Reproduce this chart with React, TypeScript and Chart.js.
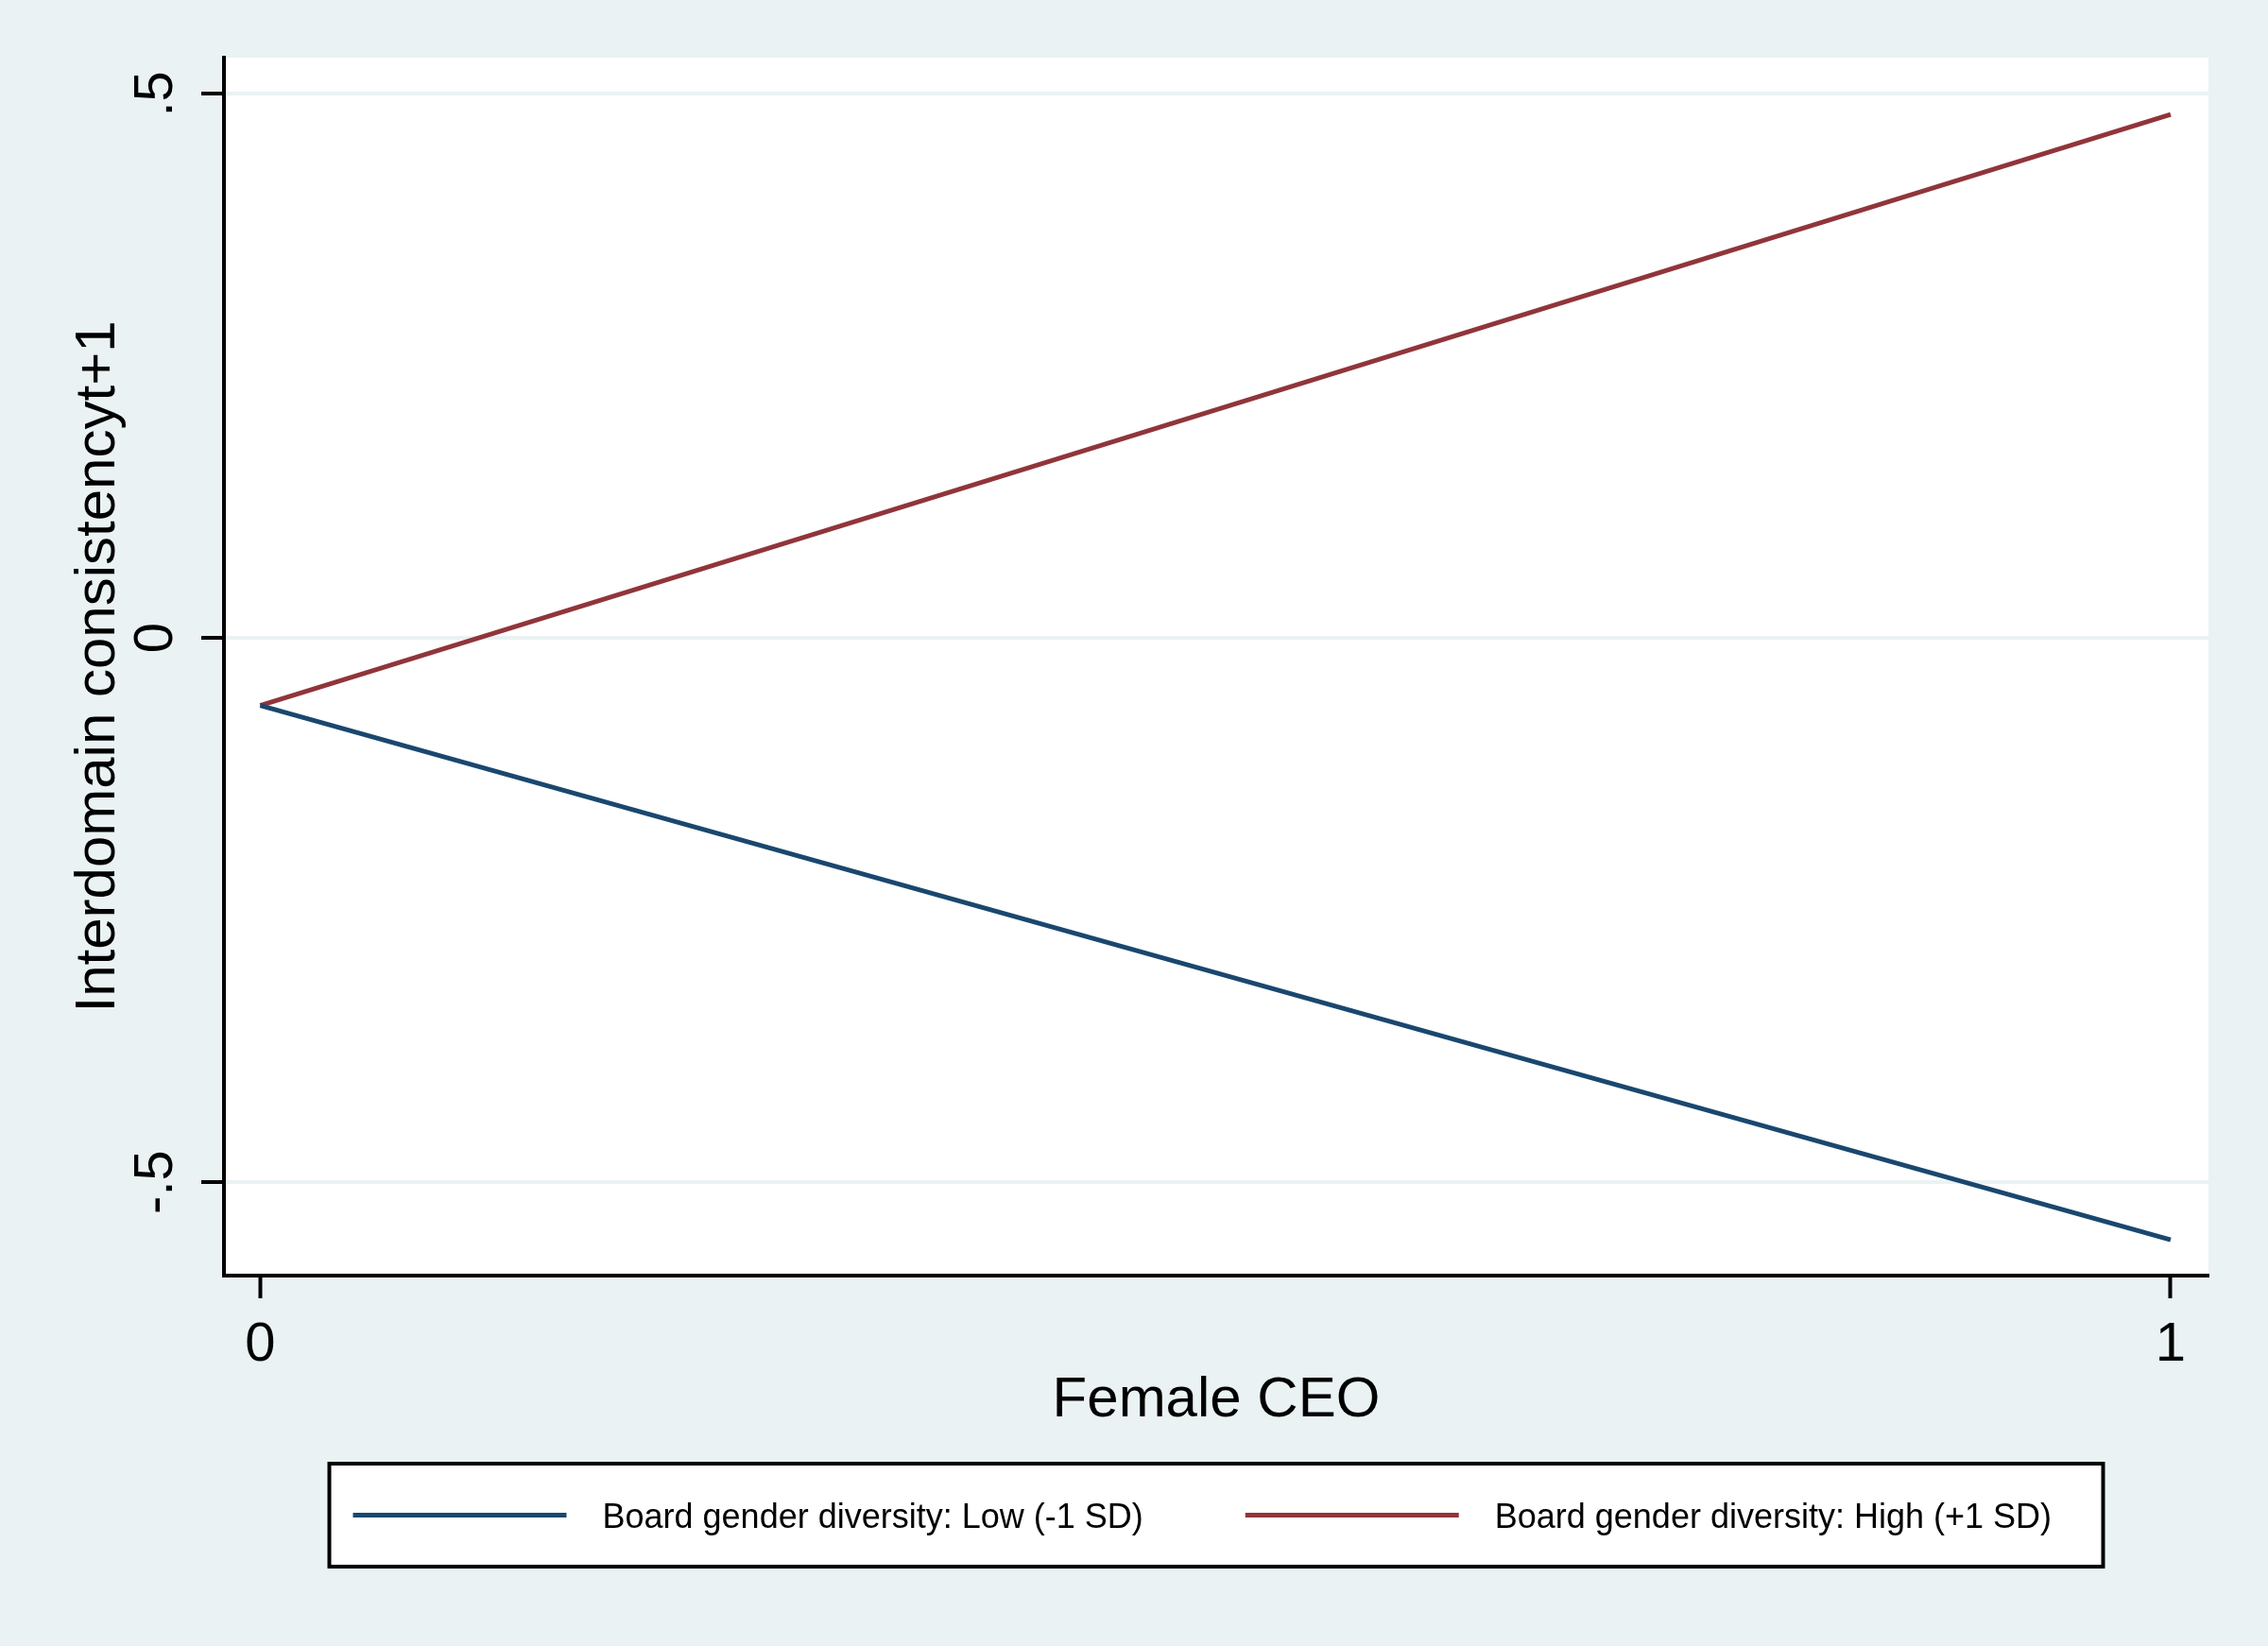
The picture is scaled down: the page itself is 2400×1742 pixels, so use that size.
import { useEffect, useRef } from 'react';
import { Chart, registerables } from 'chart.js';

Chart.register(...registerables);

// values
const femaleCEO = [0, 1];
const lowDiversity = [-0.062, -0.553];
const highDiversity = [-0.062, 0.481];
const seriesLabels = ['Board gender diversity: Low (-1 SD)', 'Board gender diversity: High (+1 SD)'];
const seriesColors = ['#1a476f', '#90353b'];
const xTicks = [0, 1];
const xTickLabels = ['0', '1'];
const yTicks = [-0.5, 0, 0.5];
const yTickLabels = ['-.5', '0', '.5'];

const BG = '#eaf2f3';
const FONT = "'Liberation Sans', Arial, Helvetica, sans-serif";

const stataBackground = {
  id: 'stataBackground',
  beforeDraw(chart: any) {
    const { ctx, chartArea: a, width, height } = chart;
    ctx.save();
    ctx.fillStyle = BG;
    ctx.fillRect(0, 0, width, height);
    ctx.fillStyle = '#ffffff';
    ctx.fillRect(a.left, a.top, a.right - a.left, a.bottom - a.top);
    ctx.restore();
  },
};

// Stata style legend: one row inside a framed box under the axis title
const boxedLegend = {
  id: 'boxedLegend',
  afterDraw(chart: any) {
    const { ctx, chartArea: a } = chart;
    const boxW = 1877;
    const boxH = 109;
    const top = 1549;
    const left = (a.left + a.right) / 2 - boxW / 2;
    ctx.save();
    ctx.fillStyle = '#ffffff';
    ctx.fillRect(left, top, boxW, boxH);
    ctx.lineWidth = 4;
    ctx.strokeStyle = '#000000';
    ctx.strokeRect(left, top, boxW, boxH);
    ctx.font = `36px ${FONT}`;
    ctx.textBaseline = 'middle';
    ctx.textAlign = 'left';
    const midY = top + boxH / 2;
    let x = left + 25;
    chart.data.datasets.forEach((ds: any) => {
      ctx.strokeStyle = ds.borderColor;
      ctx.lineWidth = 5;
      ctx.beginPath();
      ctx.moveTo(x, midY);
      ctx.lineTo(x + 226, midY);
      ctx.stroke();
      ctx.fillStyle = '#000000';
      ctx.fillText(ds.label, x + 264, midY + 4);
      x += 264 + ctx.measureText(ds.label).width + 108;
    });
    ctx.restore();
  },
};

export default function App() {
  const canvasRef = useRef<HTMLCanvasElement | null>(null);

  useEffect(() => {
    document.body.style.margin = '0';
    const ctx = canvasRef.current?.getContext('2d');
    if (!ctx) return;

    Chart.defaults.font.family = FONT;
    Chart.defaults.color = '#000000';

    const chart = new Chart(ctx, {
      type: 'line',
      data: {
        datasets: [
          {
            label: seriesLabels[0],
            data: femaleCEO.map((x, i) => ({ x, y: lowDiversity[i] })),
            borderColor: seriesColors[0],
            borderWidth: 5,
            pointRadius: 0,
            tension: 0,
          },
          {
            label: seriesLabels[1],
            data: femaleCEO.map((x, i) => ({ x, y: highDiversity[i] })),
            borderColor: seriesColors[1],
            borderWidth: 5,
            pointRadius: 0,
            tension: 0,
          },
        ],
      },
      options: {
        animation: false,
        responsive: false,
        devicePixelRatio: 1,
        layout: { padding: { left: 0, top: 61, right: 63, bottom: 0 } },
        plugins: {
          legend: { display: false },
          tooltip: { enabled: false },
        },
        scales: {
          x: {
            type: 'linear',
            position: 'bottom',
            min: -0.019,
            max: 1.0198,
            afterBuildTicks: (scale: any) => {
              scale.ticks = xTicks.map((v) => ({ value: v }));
            },
            afterFit: (scale: any) => {
              scale.height = 392;
            },
            ticks: {
              font: { size: 58 },
              color: '#000000',
              padding: 15,
              maxRotation: 0,
              callback: (_v: any, i: number) => xTickLabels[i],
            },
            grid: {
              drawOnChartArea: false,
              drawTicks: true,
              tickLength: 24,
              tickColor: '#000000',
              tickWidth: 4,
            },
            border: { display: true, color: '#000000', width: 4 },
            title: {
              display: true,
              text: 'Female CEO',
              font: { size: 60 },
              color: '#000000',
              padding: { top: 0, bottom: 224 },
            },
          },
          y: {
            type: 'linear',
            min: -0.5859,
            max: 0.5333,
            afterBuildTicks: (scale: any) => {
              scale.ticks = yTicks.map((v) => ({ value: v }));
            },
            afterFit: (scale: any) => {
              scale.width = 237;
            },
            ticks: {
              font: { size: 58 },
              color: '#000000',
              padding: 13,
              minRotation: 90,
              maxRotation: 90,
              crossAlign: 'center',
              callback: (_v: any, i: number) => yTickLabels[i],
            },
            grid: {
              drawOnChartArea: true,
              color: BG,
              lineWidth: 4,
              drawTicks: true,
              tickLength: 24,
              tickColor: '#000000',
              tickWidth: 4,
            },
            border: { display: true, color: '#000000', width: 4 },
            title: {
              display: true,
              text: 'Interdomain consistencyt+1',
              font: { size: 60 },
              color: '#000000',
              padding: { top: 68, bottom: 0 },
            },
          },
        },
      },
      plugins: [stataBackground, boxedLegend],
    } as any);

    return () => {
      chart.destroy();
    };
  }, []);

  return (
    <div style={{ width: 2400, height: 1742, background: BG }}>
      <canvas ref={canvasRef} width={2400} height={1742} style={{ display: 'block' }} />
    </div>
  );
}
